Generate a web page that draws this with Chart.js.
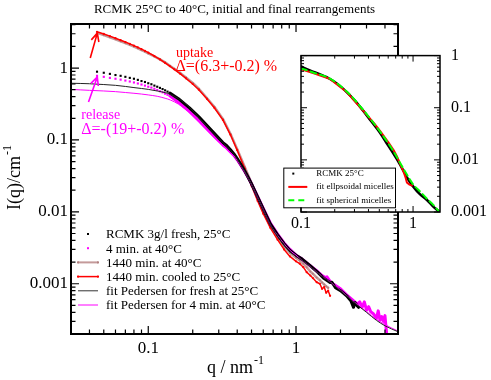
<!DOCTYPE html>
<html>
<head>
<meta charset="utf-8">
<script src="https://cdn.jsdelivr.net/npm/chart.js"></script>
<style>
  body { margin: 0; background: #fff; }
  #wrap { position: relative; width: 491px; height: 380px; }
  #main { position: absolute; left: 0; top: 0; }
  #inset { position: absolute; left: 270px; top: 35px; }
</style>
</head>
<body>
<div id="wrap">
  <canvas id="main" width="491" height="380"></canvas>
  <canvas id="inset" width="221" height="200"></canvas>
</div>
<script>
// fresh sample at 25°C (dots at low q, dense data after)
const qFresh = [0.045,0.05,0.055,0.06,0.065,0.07,0.075,0.08,0.085,0.09,0.095,0.1,0.105,0.11,0.115,0.12,0.125,0.13,0.135,0.14,
  0.16,0.19,0.22,0.26,0.32,0.34,0.36,0.38,0.4,0.425,0.45,0.475,0.5,0.55,0.6,0.67,0.75,0.83,0.91,1.0,1.1,1.24,1.4,1.55,1.7,1.75,1.8,1.85,2.0,2.2,2.35,2.45,2.5,2.6,2.65];
const iFresh = [0.89,0.86,0.83,0.80,0.78,0.755,0.73,0.71,0.685,0.66,0.64,0.615,0.595,0.57,0.55,0.53,0.51,0.49,0.47,0.45,
  0.375,0.28,0.21,0.145,0.092,0.083,0.073,0.064,0.055,0.045,0.037,0.03,0.0245,0.0162,0.011,0.0068,0.0048,0.0036,0.0029,0.0025,0.0022,0.0018,0.00145,0.00118,0.00104,0.00105,0.00096,0.00088,0.0008,0.00068,0.00058,0.00047,0.00055,0.00049,0.00047];

// 4 min at 40°C
const q4min = [0.045,0.05,0.055,0.06,0.065,0.07,0.075,0.08,0.085,0.09,0.095,0.1,0.105,0.11,0.115,0.12,0.125,0.13,0.135,0.14,
  0.16,0.19,0.22,0.26,0.32,0.34,0.36,0.38,0.4,0.425,0.45,0.475,0.5,0.55,0.6,0.67,0.75,0.83,0.91,1.0,1.1,1.24,1.4,1.5,1.58,1.62,1.7,1.8,2.0,2.2,2.4,2.6,2.7,2.8,2.9,3.0,3.1,3.2,3.35,3.5,3.6,3.7,3.8,3.9,4.0,4.05,4.1];
const i4min = [0.78,0.755,0.73,0.71,0.69,0.67,0.65,0.63,0.61,0.59,0.57,0.55,0.535,0.515,0.495,0.475,0.46,0.44,0.425,0.41,
  0.335,0.25,0.185,0.13,0.085,0.077,0.068,0.061,0.053,0.044,0.0365,0.03,0.0245,0.0163,0.0112,0.007,0.0049,0.0037,0.003,0.0025,0.0022,0.0018,0.00148,0.0013,0.00122,0.00125,0.00108,0.00098,0.00085,0.0007,0.0006,0.00052,0.00056,0.00047,0.00056,0.00043,0.00048,0.00041,0.00038,0.00033,0.00042,0.00031,0.00035,0.0003,0.00036,0.00027,0.00021];

// 1440 min at 40°C and 1440 min cooled to 25°C
const qLong = [0.045,0.05,0.055,0.06,0.065,0.07,0.075,0.08,0.085,0.09,0.095,0.1,0.11,0.12,0.13,0.14,0.15,0.165,0.18,0.2,0.22,0.25,0.28,0.32,0.36,0.4,0.45,0.5,0.55,0.6,0.67,0.75,0.83,0.91,1.0,1.06,1.12,1.18,1.25,1.3,1.38,1.45,1.5,1.55,1.6,1.65,1.7];
const iLong40 = [3.08,2.87,2.68,2.51,2.36,2.22,2.1,1.99,1.88,1.78,1.69,1.6,1.45,1.32,1.2,1.08,0.98,0.85,0.74,0.62,0.515,0.38,0.29,0.196,0.122,0.074,0.042,0.025,0.0155,0.0102,0.0066,0.0045,0.0033,0.0027,0.0023,0.0021,0.0019,0.0017,0.00148,0.00138,0.00122,0.00112,0.00104,0.00098,0.00092,0.00088];
const iLongCooled = [3.2,2.98,2.78,2.6,2.44,2.3,2.17,2.05,1.94,1.83,1.73,1.64,1.47,1.32,1.18,1.06,0.96,0.83,0.72,0.6,0.5,0.37,0.28,0.19,0.118,0.072,0.04,0.023,0.0142,0.0094,0.006,0.0041,0.003,0.0024,0.00205,0.0019,0.0017,0.00145,0.0013,0.0012,0.00105,0.001,0.00085,0.0009,0.00075,0.0008,0.00068];

// Pedersen fits
const qFit = [0.03,0.04,0.05,0.06,0.07,0.08,0.09,0.1,0.115,0.13,0.141,0.16,0.175,0.192,0.22,0.262,0.29,0.323,0.36,0.38,0.4,0.425,0.45,0.475,0.5,0.55,0.6,0.67,0.75,0.83,0.91,1.0,1.1,1.24,1.4,1.7,2.0,2.5,3.0,3.5,4.0,4.9];
const iFitFresh = [0.615,0.605,0.59,0.575,0.555,0.535,0.52,0.505,0.48,0.455,0.43,0.375,0.33,0.28,0.205,0.14,0.113,0.09,0.072,0.063,0.054,0.044,0.0362,0.0295,0.024,0.0158,0.0108,0.0066,0.0046,0.0035,0.0028,0.0024,0.0021,0.00175,0.00142,0.00105,0.0008,0.00054,0.0004,0.00031,0.00026,0.000215];
const iFit4min = [0.505,0.49,0.48,0.47,0.457,0.446,0.435,0.423,0.405,0.38,0.36,0.315,0.275,0.235,0.18,0.124,0.1,0.083,0.067,0.06,0.052,0.043,0.0357,0.0293,0.024,0.0158,0.0108,0.0066,0.0047,0.0036,0.0029,0.0025,0.0021,0.00175,0.00142,0.00106,0.00081,0.00055,0.00041,0.00032,0.00027,0.00022];

// inset
const qInset = [0.1,0.12,0.15,0.18,0.21,0.256,0.3,0.36,0.42,0.507,0.58,0.67,0.75,0.82,0.9,1.0,1.15,1.33,1.5,1.72];
const iInset25 = [0.62,0.52,0.43,0.36,0.29,0.2,0.14,0.087,0.056,0.033,0.021,0.013,0.0088,0.0062,0.0043,0.0031,0.0022,0.0017,0.0013,0.001];
const qEllip = [0.1,0.13,0.18,0.256,0.36,0.45,0.507,0.6,0.67,0.72,0.765,0.8,0.83,0.86,0.88,0.92,0.975];
const iEllip = [0.55,0.46,0.36,0.2,0.087,0.05,0.036,0.022,0.0155,0.0115,0.0085,0.0068,0.0056,0.0045,0.0037,0.0034,0.0032];
const qSph = [0.1,0.13,0.18,0.256,0.36,0.507,0.67,0.82,1.0,1.15,1.33,1.5,1.72];
const iSph = [0.57,0.47,0.365,0.205,0.09,0.035,0.0145,0.0068,0.0034,0.0025,0.0018,0.0014,0.001];

// tick labels
const mainXLabelVals = [0.1, 1], mainXLabels = ['0.1', '1'];
const mainYLabelVals = [0.001, 0.01, 0.1, 1], mainYLabels = ['0.001', '0.01', '0.1', '1'];
const insetXLabelVals = [0.1, 1], insetXLabels = ['0.1', '1'];
const insetYLabelVals = [0.001, 0.01, 0.1, 1], insetYLabels = ['0.001', '0.01', '0.1', '1'];

const mainLegend = ['RCMK 3g/l fresh, 25°C', '4 min. at 40°C', '1440 min. at 40°C',
  '1440 min. cooled to 25°C', 'fit Pedersen for fresh at 25°C', 'fit Pedersen for 4 min. at 40°C'];
const insetLegend = ['RCMK 25°C', 'fit ellpsoidal micelles', 'fit spherical micelles'];

const SERIF = '"Liberation Serif", "Times New Roman", serif';
Chart.defaults.font.family = SERIF;
Chart.defaults.color = '#000';
Chart.defaults.elements.line.borderJoinStyle = 'round';
Chart.defaults.elements.line.borderCapStyle = 'round';

const pts = (qs, is) => qs.map((q, k) => ({ x: q, y: is[k] }));

function logTicks(min, max) {
  const out = [];
  for (let e = Math.floor(Math.log10(min)); e <= Math.ceil(Math.log10(max)); e++) {
    for (let m = 1; m < 10; m++) {
      const v = +(m * Math.pow(10, e)).toPrecision(6);
      if (v >= min * 0.9999 && v <= max * 1.0001) out.push(v);
    }
  }
  return out;
}
const isDecade = v => Math.abs(Math.log10(v) - Math.round(Math.log10(v))) < 1e-6;
const labelFor = (vals, texts) => v => {
  const k = vals.findIndex(t => Math.abs(t - v) / t < 1e-6);
  return k < 0 ? '' : texts[k];
};

// inward ticks on all four sides plus box frame
const frameTicks = {
  id: 'frameTicks',
  beforeDatasetsDraw(chart, args, o) {
    if (!o.fill) return;
    const a = chart.chartArea;
    chart.ctx.save();
    chart.ctx.fillStyle = '#fff';
    chart.ctx.fillRect(a.left, a.top, a.right - a.left, a.bottom - a.top);
    chart.ctx.restore();
  },
  afterDatasetsDraw(chart, args, o) {
    const { ctx, chartArea: a } = chart;
    const xs = chart.scales.x, ys = chart.scales.y;
    ctx.save();
    ctx.strokeStyle = '#000';
    ctx.lineWidth = o.tickWidth;
    ctx.beginPath();
    xs.ticks.forEach(t => {
      const px = xs.getPixelForValue(t.value);
      const len = isDecade(t.value) ? o.major : o.minor;
      ctx.moveTo(px, a.bottom); ctx.lineTo(px, a.bottom - len);
      ctx.moveTo(px, a.top); ctx.lineTo(px, a.top + len);
    });
    ys.ticks.forEach(t => {
      const py = ys.getPixelForValue(t.value);
      const len = isDecade(t.value) ? o.major : o.minor;
      ctx.moveTo(a.left, py); ctx.lineTo(a.left + len, py);
      ctx.moveTo(a.right, py); ctx.lineTo(a.right - len, py);
    });
    ctx.stroke();
    ctx.lineWidth = o.frameWidth;
    ctx.strokeRect(a.left, a.top, a.right - a.left, a.bottom - a.top);
    ctx.restore();
  }
};

function drawArrow(ctx, x0, y0, x1, y1, color) {
  const ang = Math.atan2(y1 - y0, x1 - x0), h = 9;
  ctx.strokeStyle = color;
  ctx.lineWidth = 1.6;
  ctx.beginPath();
  ctx.moveTo(x0, y0); ctx.lineTo(x1, y1);
  ctx.moveTo(x1 - h * Math.cos(ang - 0.45), y1 - h * Math.sin(ang - 0.45));
  ctx.lineTo(x1, y1);
  ctx.lineTo(x1 - h * Math.cos(ang + 0.45), y1 - h * Math.sin(ang + 0.45));
  ctx.stroke();
}

function supText(ctx, x, y, base, sup, size) {
  ctx.font = size + 'px ' + SERIF;
  ctx.fillText(base, x, y);
  const w = ctx.measureText(base).width;
  ctx.font = Math.round(size * 0.68) + 'px ' + SERIF;
  ctx.fillText(sup, x + w + 1, y - size * 0.5);
}

// legend, annotations and axis titles of the main plot
const mainDecor = {
  id: 'mainDecor',
  afterDraw(chart) {
    const { ctx, chartArea: a } = chart;
    const xs = chart.scales.x, ys = chart.scales.y;
    const P = (q, i) => [xs.getPixelForValue(q), ys.getPixelForValue(i)];
    ctx.save();

    // arrows and percentages
    const rt = P(0.0405, 1.38), rh = P(0.0452, 3.06);
    drawArrow(ctx, rt[0], rt[1], rh[0], rh[1], '#ff0000');
    const mt = P(0.0394, 0.337), mh = P(0.0452, 0.75);
    drawArrow(ctx, mt[0], mt[1], mh[0], mh[1], '#ff00ff');
    ctx.textBaseline = 'middle';
    ctx.textAlign = 'left';
    ctx.fillStyle = '#ff0000';
    let p = P(0.154, 1.62);
    ctx.font = '14px ' + SERIF; ctx.fillText('uptake', p[0], p[1]);
    p = P(0.153, 1.03);
    ctx.font = '16px ' + SERIF; ctx.fillText('Δ=(6.3+-0.2) %', p[0], p[1]);
    ctx.fillStyle = '#ff00ff';
    p = P(0.0352, 0.222);
    ctx.font = '14px ' + SERIF; ctx.fillText('release', p[0], p[1]);
    p = P(0.0352, 0.138);
    ctx.font = '16px ' + SERIF; ctx.fillText('Δ=-(19+-0.2) %', p[0], p[1]);

    // legend
    const lx = a.left + 7, ly = a.bottom - 100, step = 14.2;
    ctx.font = '13px ' + SERIF;
    mainLegend.forEach((t, k) => {
      const y = ly + k * step;
      ctx.fillStyle = '#000';
      ctx.fillText(t, lx + 28, y + 1);
      if (k < 2) {
        ctx.fillStyle = k === 0 ? '#000' : '#ff00ff';
        ctx.fillRect(lx + 9, y - 1, 2, 2);
      } else {
        const col = ['#c49a9a', '#ff0000', '#333', '#ff00ff'][k - 2];
        ctx.strokeStyle = col;
        ctx.lineWidth = k === 2 ? 2 : (k === 3 ? 1.5 : 1);
        ctx.beginPath(); ctx.moveTo(lx, y); ctx.lineTo(lx + 20, y); ctx.stroke();
        if (k < 4) {
          ctx.fillStyle = k === 2 ? '#b08080' : '#ff0000';
          ctx.fillRect(lx - 1, y - 1, 2, 2);
          ctx.fillRect(lx + 19, y - 1, 2, 2);
        }
      }
    });

    // axis titles
    ctx.fillStyle = '#000';
    ctx.textBaseline = 'alphabetic';
    supText(ctx, a.left + 136, 373, 'q / nm', '-1', 18);
    ctx.translate(20, 210);
    ctx.rotate(-Math.PI / 2);
    supText(ctx, 0, 0, 'I(q)/cm', '-1', 18);
    ctx.restore();
  }
};

const mainChart = new Chart(document.getElementById('main'), {
  type: 'scatter',
  plugins: [frameTicks, mainDecor],
  data: {
    datasets: [
      { label: mainLegend[0], data: pts(qFresh, iFresh), showLine: true, order: 2,
        borderColor: '#000', borderWidth: 3, backgroundColor: '#000', pointStyle: 'rect',
        pointRadius: c => (c.raw && c.raw.x < 0.1399 ? 1.5 : 0), pointBorderWidth: 0,
        segment: { borderColor: c => (c.p0.parsed.x < 0.1399 ? 'rgba(0,0,0,0)' : '#000') } },
      { label: mainLegend[1], data: pts(q4min, i4min), showLine: true, order: 3,
        borderColor: '#ff00ff', borderWidth: 3, backgroundColor: '#ff00ff', pointStyle: 'rect',
        pointRadius: c => (c.raw && c.raw.x < 0.1399 ? 1.5 : 0), pointBorderWidth: 0,
        segment: { borderColor: c => (c.p0.parsed.x < 0.1399 ? 'rgba(0,0,0,0)' : '#ff00ff') } },
      { label: mainLegend[2], data: pts(qLong.slice(0, iLong40.length), iLong40), showLine: true, order: 5,
        borderColor: '#c49a9a', borderWidth: 2.5, backgroundColor: '#b08080', pointRadius: 1, pointBorderWidth: 0 },
      { label: mainLegend[3], data: pts(qLong, iLongCooled), showLine: true, order: 4,
        borderColor: '#ff0000', borderWidth: 1.5, backgroundColor: '#ff0000', pointRadius: 1.1, pointBorderWidth: 0 },
      { label: mainLegend[4], data: pts(qFit, iFitFresh), showLine: true, order: 0,
        borderColor: '#222', borderWidth: 1, pointRadius: 0, cubicInterpolationMode: 'monotone' },
      { label: mainLegend[5], data: pts(qFit, iFit4min), showLine: true, order: 1,
        borderColor: '#ff00ff', borderWidth: 1, pointRadius: 0, cubicInterpolationMode: 'monotone' }
    ]
  },
  options: {
    responsive: false,
    animation: false,
    layout: { padding: { left: 0, right: 93, top: 0, bottom: 0 } },
    plugins: {
      legend: { display: false },
      tooltip: { enabled: false },
      title: { display: true, fullSize: false, text: 'RCMK 25°C to 40°C, initial and final rearrangements',
        font: { family: SERIF, size: 13, weight: 'normal' }, color: '#000', padding: { top: 2, bottom: 6.4 } },
      frameTicks: { major: 8, minor: 4.5, tickWidth: 1.2, frameWidth: 2 }
    },
    scales: {
      x: { type: 'logarithmic', min: 0.03, max: 4.9, position: 'bottom',
        grid: { display: false, drawTicks: false }, border: { display: false },
        afterBuildTicks: s => { s.ticks = logTicks(0.03, 4.9).map(v => ({ value: v })); },
        afterFit: s => { s.height = 46; },
        ticks: { autoSkip: false, maxRotation: 0, padding: 4, font: { size: 17 },
          callback: labelFor(mainXLabelVals, mainXLabels) } },
      y: { type: 'logarithmic', min: 0.0002, max: 4.1, position: 'left',
        grid: { display: false, drawTicks: false }, border: { display: false },
        afterBuildTicks: s => { s.ticks = logTicks(0.0002, 4.1).map(v => ({ value: v })); },
        afterFit: s => { s.width = 71; },
        ticks: { autoSkip: false, padding: 3, font: { size: 17 },
          callback: labelFor(mainYLabelVals, mainYLabels) } }
    }
  }
});

// inset legend box
const insetDecor = {
  id: 'insetDecor',
  afterDraw(chart) {
    const { ctx, chartArea: a } = chart;
    const bx = a.left - 17.7, by = a.top + 112, bw = 111.7, bh = 39.7;
    ctx.save();
    ctx.fillStyle = '#fff';
    ctx.fillRect(bx, by, bw, bh);
    ctx.strokeStyle = '#000';
    ctx.lineWidth = 1;
    ctx.strokeRect(bx + 0.5, by + 0.5, bw, bh);
    ctx.font = '9px ' + SERIF;
    ctx.textBaseline = 'middle';
    insetLegend.forEach((t, k) => {
      const y = by + 6 + k * 13.3;
      ctx.fillStyle = '#000';
      ctx.fillText(t, bx + 33, y);
      if (k === 0) {
        ctx.fillRect(bx + 9, y - 1, 2, 2);
      } else {
        ctx.strokeStyle = k === 1 ? '#ff0000' : '#00ff00';
        ctx.lineWidth = 2;
        ctx.setLineDash(k === 2 ? [6, 4] : []);
        ctx.beginPath(); ctx.moveTo(bx + 5, y); ctx.lineTo(bx + 24, y); ctx.stroke();
      }
    });
    ctx.restore();
  }
};

const insetChart = new Chart(document.getElementById('inset'), {
  type: 'scatter',
  plugins: [frameTicks, insetDecor],
  data: {
    datasets: [
      { label: insetLegend[0], data: pts(qInset, iInset25), showLine: true, order: 2,
        borderColor: '#000', borderWidth: 2.5, pointRadius: 0, cubicInterpolationMode: 'monotone' },
      { label: insetLegend[1], data: pts(qEllip, iEllip), showLine: true, order: 1,
        borderColor: '#ff0000', borderWidth: 2, pointRadius: 0 },
      { label: insetLegend[2], data: pts(qSph, iSph), showLine: true, order: 0,
        borderColor: '#00ff00', borderWidth: 2, borderDash: [6, 4], pointRadius: 0, cubicInterpolationMode: 'monotone' }
    ]
  },
  options: {
    responsive: false,
    animation: false,
    layout: { padding: { left: 31, right: 0, top: 14, bottom: 0 } },
    plugins: {
      legend: { display: false },
      tooltip: { enabled: false },
      frameTicks: { major: 6, minor: 3, tickWidth: 1, frameWidth: 1.5, fill: true }
    },
    scales: {
      x: { type: 'logarithmic', min: 0.1, max: 1.74, position: 'bottom',
        grid: { display: false, drawTicks: false }, border: { display: false },
        afterBuildTicks: s => { s.ticks = logTicks(0.1, 1.74).map(v => ({ value: v })); },
        afterFit: s => { s.height = 23; },
        ticks: { autoSkip: false, maxRotation: 0, padding: 2, font: { size: 16 },
          callback: labelFor(insetXLabelVals, insetXLabels) } },
      y: { type: 'logarithmic', min: 0.001, max: 1, position: 'right',
        grid: { display: false, drawTicks: false }, border: { display: false },
        afterBuildTicks: s => { s.ticks = logTicks(0.001, 1).map(v => ({ value: v })); },
        afterFit: s => { s.width = 51; },
        ticks: { autoSkip: false, padding: 11, font: { size: 16 },
          callback: labelFor(insetYLabelVals, insetYLabels) } }
    }
  }
});
</script>
</body>
</html>
